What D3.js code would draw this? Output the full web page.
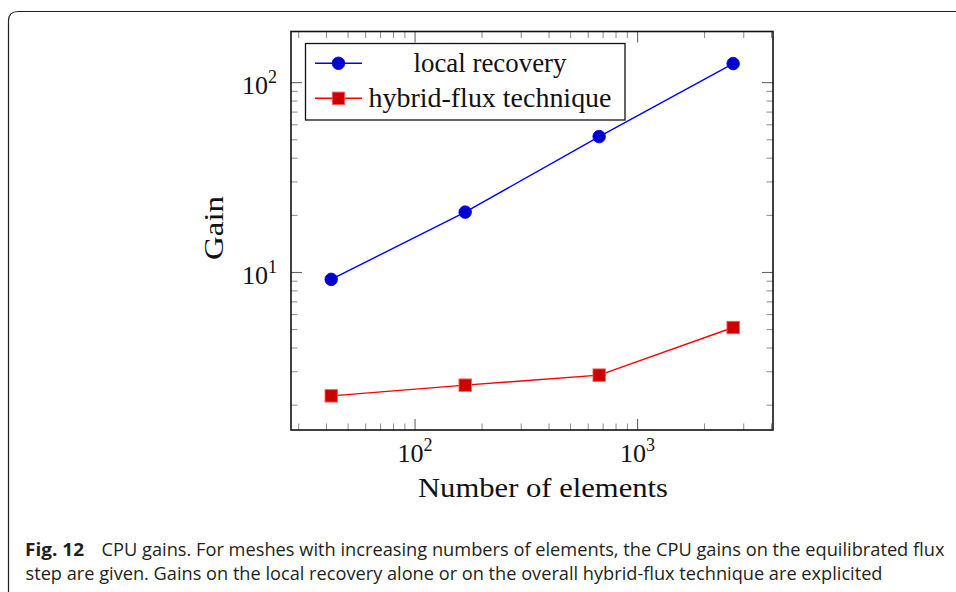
<!DOCTYPE html>
<html>
<head>
<meta charset="utf-8">
<script src="https://cdn.jsdelivr.net/npm/d3@7"></script>
<style>
  html, body { margin: 0; padding: 0; background: #fff; }
  svg { display: block; }
</style>
</head>
<body>
<svg id="chart" width="956" height="592"></svg>
<script>
// Mesh sizes (number of elements) and CPU gains per approach
const elements = [42, 168, 672, 2688];
const localRecovery = [9.2, 20.8, 52, 126];
const hybridFlux = [2.24, 2.55, 2.88, 5.13];
const seriesNames = ["local recovery", "hybrid-flux technique"];
const xMajorTicks = [100, 1000];
const yMajorTicks = [10, 100];
const xTickExponents = ["2", "3"];
const yTickExponents = ["1", "2"];
const captionLead = "Fig. 12";
const captionLine1 = "CPU gains. For meshes with increasing numbers of elements, the CPU gains on the equilibrated flux";
const captionLine2 = "step are given. Gains on the local recovery alone or on the overall hybrid-flux technique are explicited";

const svg = d3.select("#chart");
const serif = "'Liberation Serif', 'DejaVu Serif', serif";
const sans = "'Open Sans', 'Noto Sans', sans-serif";

// Card outline with a rounded top-left corner
svg.append("path")
  .attr("d", "M8.5,600 L8.5,21 Q8.5,11.5 18,11.5 L960,11.5")
  .attr("fill", "none").attr("stroke", "#222").attr("stroke-width", 1.2);

const plot = { left: 291, right: 773, top: 31.5, bottom: 430 };

const x = d3.scaleLog().domain([27.7, 4060]).range([plot.left, plot.right]);
const y = d3.scaleLog().domain([1.48, 186]).range([plot.bottom, plot.top]);

// Minor ticks: every integer multiple within each decade
function minorTicks(scale) {
  const [a, b] = scale.domain();
  const out = [];
  for (let e = Math.floor(Math.log10(a)); e <= Math.ceil(Math.log10(b)); e++) {
    for (let m = 2; m <= 9; m++) {
      const v = m * Math.pow(10, e);
      if (v > a && v < b) out.push(v);
    }
  }
  return out;
}

const g = svg.append("g");
const majorLen = 11, minorLen = 6.5;

// x ticks, bottom and top, pointing inward
minorTicks(x).forEach(v => {
  const px = x(v);
  g.append("line").attr("x1", px).attr("x2", px).attr("y1", plot.bottom).attr("y2", plot.bottom - minorLen)
    .attr("stroke", "#8a8a8a").attr("stroke-width", 1);
  g.append("line").attr("x1", px).attr("x2", px).attr("y1", plot.top).attr("y2", plot.top + minorLen)
    .attr("stroke", "#8a8a8a").attr("stroke-width", 1);
});
xMajorTicks.forEach(v => {
  const px = x(v);
  g.append("line").attr("x1", px).attr("x2", px).attr("y1", plot.bottom).attr("y2", plot.bottom - majorLen)
    .attr("stroke", "#666").attr("stroke-width", 1.1);
  g.append("line").attr("x1", px).attr("x2", px).attr("y1", plot.top).attr("y2", plot.top + majorLen)
    .attr("stroke", "#666").attr("stroke-width", 1.1);
});
// y ticks, left and right
minorTicks(y).forEach(v => {
  const py = y(v);
  g.append("line").attr("x1", plot.left).attr("x2", plot.left + minorLen).attr("y1", py).attr("y2", py)
    .attr("stroke", "#8a8a8a").attr("stroke-width", 1);
  g.append("line").attr("x1", plot.right).attr("x2", plot.right - minorLen).attr("y1", py).attr("y2", py)
    .attr("stroke", "#8a8a8a").attr("stroke-width", 1);
});
yMajorTicks.forEach(v => {
  const py = y(v);
  g.append("line").attr("x1", plot.left).attr("x2", plot.left + majorLen).attr("y1", py).attr("y2", py)
    .attr("stroke", "#666").attr("stroke-width", 1.1);
  g.append("line").attr("x1", plot.right).attr("x2", plot.right - majorLen).attr("y1", py).attr("y2", py)
    .attr("stroke", "#666").attr("stroke-width", 1.1);
});

// Plot frame
svg.append("rect")
  .attr("x", plot.left).attr("y", plot.top)
  .attr("width", plot.right - plot.left).attr("height", plot.bottom - plot.top)
  .attr("fill", "none").attr("stroke", "#111").attr("stroke-width", 1.6);

// Tick labels as 10 with a superscript exponent
xMajorTicks.forEach((v, i) => {
  const t = svg.append("text")
    .attr("x", x(v)).attr("y", 462)
    .attr("text-anchor", "middle")
    .attr("font-family", serif).attr("font-size", 26).attr("fill", "#111");
  t.append("tspan").text("10");
  t.append("tspan").attr("dy", -11).attr("font-size", 18).text(xTickExponents[i]);
});
yMajorTicks.forEach((v, i) => {
  const t = svg.append("text")
    .attr("x", 277).attr("y", y(v) + 11.5)
    .attr("text-anchor", "end")
    .attr("font-family", serif).attr("font-size", 26).attr("fill", "#111");
  t.append("tspan").text("10");
  t.append("tspan").attr("dy", -11).attr("font-size", 18).text(yTickExponents[i]);
});

// Axis titles
svg.append("text")
  .attr("x", 543).attr("y", 497)
  .attr("text-anchor", "middle")
  .attr("font-family", serif).attr("font-size", 28).attr("fill", "#111")
  .attr("textLength", 250).attr("lengthAdjust", "spacingAndGlyphs")
  .text("Number of elements");
svg.append("text")
  .attr("transform", "translate(223,228) rotate(-90)")
  .attr("text-anchor", "middle")
  .attr("font-family", serif).attr("font-size", 28).attr("fill", "#111")
  .attr("textLength", 64).attr("lengthAdjust", "spacingAndGlyphs")
  .text("Gain");

// Series
const series = [
  { name: seriesNames[0], values: localRecovery, line: "#0000ff", fill: "#0000cc", shape: "circle" },
  { name: seriesNames[1], values: hybridFlux, line: "#ff0000", fill: "#cc0000", shape: "square" }
];
const lineGen = d3.line().x(d => x(d[0])).y(d => y(d[1]));

function drawMarker(sel, s, cx, cy) {
  if (s.shape === "circle") {
    sel.append("circle").attr("cx", cx).attr("cy", cy).attr("r", 6.3)
      .attr("fill", s.fill).attr("stroke", s.line).attr("stroke-width", 0.8);
  } else {
    sel.append("rect").attr("x", cx - 6.2).attr("y", cy - 6.2).attr("width", 12.4).attr("height", 12.4)
      .attr("fill", s.fill).attr("stroke", "#ff5555").attr("stroke-width", 0.9);
  }
}

series.forEach(s => {
  const pts = elements.map((e, i) => [e, s.values[i]]);
  svg.append("path").attr("d", lineGen(pts))
    .attr("fill", "none").attr("stroke", s.line).attr("stroke-width", 1.4);
  const mg = svg.append("g");
  pts.forEach(p => drawMarker(mg, s, x(p[0]), y(p[1])));
});

// Legend
const leg = svg.append("g");
leg.append("rect").attr("x", 305.5).attr("y", 43.5).attr("width", 319.5).attr("height", 76.5)
  .attr("fill", "#fff").attr("stroke", "#111").attr("stroke-width", 1.3);
const legRows = [63.3, 98.3];
const legWidths = [153, 243];
series.forEach((s, i) => {
  const ly = legRows[i];
  leg.append("line").attr("x1", 315).attr("x2", 362).attr("y1", ly).attr("y2", ly)
    .attr("stroke", s.line).attr("stroke-width", 1.4);
  drawMarker(leg, s, 338.5, ly);
  leg.append("text")
    .attr("x", 490).attr("y", ly + 8.5)
    .attr("text-anchor", "middle")
    .attr("font-family", serif).attr("font-size", 28).attr("fill", "#111")
    .attr("textLength", legWidths[i]).attr("lengthAdjust", "spacingAndGlyphs")
    .text(s.name);
});

// Caption
svg.append("text")
  .attr("x", 25).attr("y", 556)
  .attr("font-family", sans).attr("font-size", 17.5).attr("font-weight", 700).attr("fill", "#231f20")
  .attr("textLength", 59).attr("lengthAdjust", "spacingAndGlyphs")
  .text(captionLead);
svg.append("text")
  .attr("x", 101.5).attr("y", 556)
  .attr("font-family", sans).attr("font-size", 17.5).attr("fill", "#231f20")
  .attr("textLength", 843).attr("lengthAdjust", "spacingAndGlyphs")
  .text(captionLine1);
svg.append("text")
  .attr("x", 25.5).attr("y", 580)
  .attr("font-family", sans).attr("font-size", 17.5).attr("fill", "#231f20")
  .attr("textLength", 857).attr("lengthAdjust", "spacingAndGlyphs")
  .text(captionLine2);
</script>
</body>
</html>
